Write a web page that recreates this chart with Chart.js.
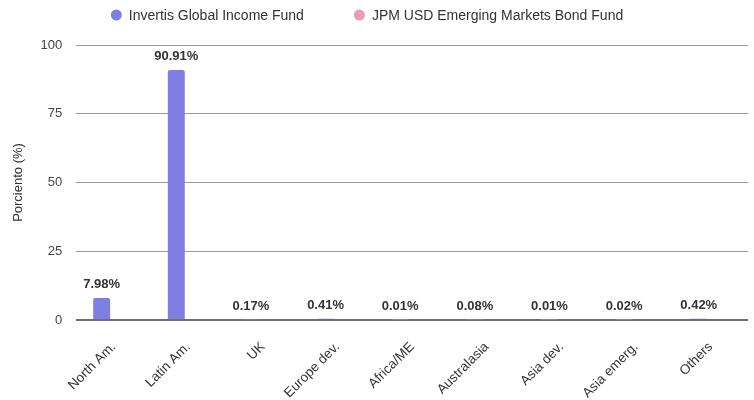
<!DOCTYPE html>
<html>
<head>
<meta charset="utf-8">
<script src="https://cdn.jsdelivr.net/npm/chart.js@4.4.0/dist/chart.umd.min.js"></script>
<style>
  html, body { margin: 0; padding: 0; background: #fff; }
  #wrap { width: 754px; height: 400px; }
</style>
</head>
<body>
<div id="wrap"><canvas id="regionChart"></canvas></div>
<script>
// Regional allocation of the two funds
const categories = ['North Am.', 'Latin Am.', 'UK', 'Europe dev.', 'Africa/ME', 'Australasia', 'Asia dev.', 'Asia emerg.', 'Others'];
const invertisValues = [7.98, 90.91, 0.17, 0.41, 0.01, 0.08, 0.01, 0.02, 0.42];
const jpmValues = [0, 0, 0, 0, 0, 0, 0, 0, 0];
const yTicks = [0, 25, 50, 75, 100];

const fontFamily = '"Liberation Sans", Arial, sans-serif';

// labels above the purple bars
const barLabels = {
  id: 'barLabels',
  afterDatasetsDraw(chart) {
    const ctx = chart.ctx;
    const meta = chart.getDatasetMeta(0);
    ctx.save();
    ctx.font = 'bold 13px ' + fontFamily;
    ctx.fillStyle = '#333';
    ctx.textAlign = 'center';
    ctx.textBaseline = 'bottom';
    meta.data.forEach((bar, i) => {
      ctx.fillText(invertisValues[i].toFixed(2) + '%', bar.x, bar.y - 7);
    });
    ctx.restore();
  }
};

// simple legend with wider spacing between items than the built-in one
const fundLegend = {
  id: 'fundLegend',
  afterDraw(chart) {
    const ctx = chart.ctx;
    const y = 15;
    const r = 5.5;
    const gap = 50;
    ctx.save();
    ctx.font = '14px ' + fontFamily;
    ctx.textBaseline = 'middle';
    const items = chart.data.datasets.map(ds => ({
      label: ds.label,
      color: ds.backgroundColor,
      w: 2 * r + 7 + ctx.measureText(ds.label).width
    }));
    const total = items.reduce((s, it) => s + it.w, 0) + gap * (items.length - 1);
    let x = chart.width / 2 - 10 - total / 2;
    items.forEach(it => {
      ctx.fillStyle = it.color;
      ctx.beginPath();
      ctx.arc(x + r, y, r, 0, Math.PI * 2);
      ctx.fill();
      ctx.fillStyle = '#333';
      ctx.fillText(it.label, x + 2 * r + 7, y + 1);
      x += it.w + gap;
    });
    ctx.restore();
  }
};

const ctx = document.getElementById('regionChart').getContext('2d');
const chart = new Chart(ctx, {
  type: 'bar',
  data: {
    labels: categories,
    datasets: [{
      label: 'Invertis Global Income Fund',
      data: invertisValues,
      backgroundColor: '#7f7fe3',
      borderRadius: { topLeft: 2, topRight: 2 },
      borderSkipped: 'bottom'
    }, {
      label: 'JPM USD Emerging Markets Bond Fund',
      data: jpmValues,
      backgroundColor: '#e89db4'
    }]
  },
  options: {
    responsive: true,
    maintainAspectRatio: false,
    animation: false,
    layout: { padding: { left: 4, right: 6, top: 45, bottom: 0 } },
    datasets: {
      bar: { categoryPercentage: 0.64, barPercentage: 0.71 }
    },
    plugins: {
      legend: { display: false },
      tooltip: { enabled: false }
    },
    scales: {
      x: {
        grid: { display: false },
        border: { display: false },
        afterFit: axis => { axis.height = 80; },
        ticks: {
          maxRotation: 45,
          minRotation: 45,
          color: '#333',
          padding: 11,
          font: { family: fontFamily, size: 13.5 }
        }
      },
      y: {
        min: 0,
        max: 100,
        afterBuildTicks: axis => { axis.ticks = yTicks.map(v => ({ value: v })); },
        border: { display: false },
        grid: {
          drawTicks: false,
          color: c => c.tick.value === 0 ? '#6e6e6e' : '#999',
          lineWidth: c => c.tick.value === 0 ? 2 : 1
        },
        ticks: {
          padding: 14,
          color: '#444',
          font: { family: fontFamily, size: 13 }
        },
        title: {
          display: true,
          text: 'Porciento (%)',
          color: '#333',
          padding: { top: 7, bottom: 0 },
          font: { family: fontFamily, size: 13 }
        }
      }
    }
  },
  plugins: [barLabels, fundLegend]
});
</script>
</body>
</html>
